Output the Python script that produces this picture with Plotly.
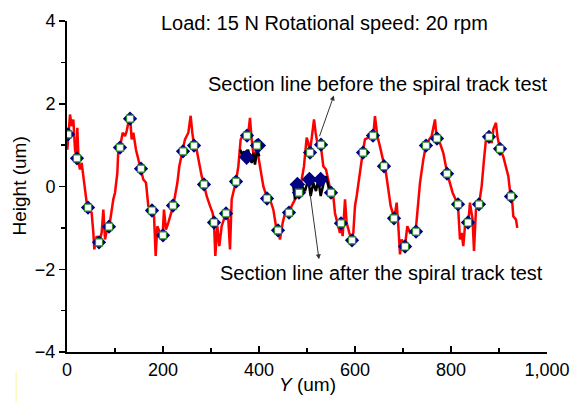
import plotly.graph_objects as go

# ---- data ----
red_x = [0.7, 3, 6.3, 9.7, 13.2, 16.7, 20.1, 21.5, 24.3, 27.1, 30.6, 34, 37.5, 41, 44.4, 51.4, 54.9, 56.9,
         61.8, 67.4, 72.2, 75.7, 79.2, 82.6, 88.2, 93, 96.5, 100, 104.9, 106.9, 110.4, 116, 120.8, 124.3,
         131.2, 134.7, 138.2, 143.7, 148.6, 153.5, 159, 164.6, 169.4, 176.4, 181.2, 184.7, 188.2, 193.7,
         199.3, 202, 206.2, 211, 221.5, 225, 229.9, 234, 241, 245.8, 252.8, 257.6, 261.1, 264.6, 270.1,
         275.7, 280.6, 285.4, 290.9, 297.9, 303.5, 306.2, 309, 313.2, 317.4, 322.2, 330.6, 336.1, 339.6,
         343.1, 352.1, 357, 361.8, 366, 374.3, 377.8, 381.2, 384.7, 389.6, 395.1, 402, 409, 417.4, 422.9,
         429.9, 435.4, 440.3, 443.7, 449.3, 454.2, 463.2, 468, 475, 484, 489, 493.7, 499.3, 502.8, 506.2,
         509.7, 514.6, 518, 521.5, 528.5, 534, 539.6, 544.4, 550, 554.8, 558.3, 563.2, 568.7, 570.8,
         574.3, 579.2, 582.6, 588.2, 593, 596.5, 600, 603.5, 609, 616, 620.8, 627.8, 632.6, 638.2, 641.6,
         646.5, 652, 660.4, 664.5, 669.4, 674.3, 681.9, 686.8, 690.3, 693.7, 697.2, 704.1, 709, 714.6,
         726.4, 731.9, 735.4, 742.3, 747.9, 754.8, 759.7, 766.6, 770.1, 777, 784, 792.3, 797.9, 803.4,
         814.5, 818.7, 822.2, 825.6, 829.1, 836.1, 839.5, 845, 847.9, 852, 858.3, 863.9, 868.7, 872.9,
         879.8, 884.7, 888.2, 893.7, 896.5, 902, 909, 914.5, 919.4, 924.3, 927.7, 929.8, 935.4, 938.1]
red_y = [0.89, 1.3, 1.74, 1.46, 1.62, 0.89, 0.67, 1.42, 0.57, 0.41, 0.57, 0.25, -0.15, -0.39, -0.51, -0.64,
         -1.12, -1.52, -1.2, -1.34, -1.12, -0.56, -1.28, -1.08, -0.96, -0.56, -0.31, -0.15, 0.33, 0.89,
         0.95, 1.3, 1.22, 1.34, 1.74, 1.14, 1.3, 0.89, 0.65, 0.43, 0.17, 0.09, -0.47, -0.58, -0.68, -1.68,
         -0.96, -1.12, -1.18, -0.56, -1.04, -0.88, -0.46, -0.23, 0.09, 0.49, 0.85, 1.14, 1.3, 1.71, 1.3,
         0.99, 0.89, 0.49, 0.25, 0.05, -0.23, -0.47, -0.64, -0.86, -1.68, -0.96, -1.44, -0.96, -0.66, -0.8,
         -1.52, -0.31, 0.13, 0.49, 1.14, 1.22, 1.23, 1.3, 1.66, 1.14, 0.65, 0.97, 0.49, 0.01, -0.3, -0.31,
         -0.56, -0.96, -1.06, -1.28, -0.88, -0.64, -0.62, -0.47, -0.31, -0.17, 0.17, 0.49, 1.18, 1.05,
         0.83, 1.22, 1.62, 1.3, 1.05, 1.01, 0.49, 0.41, 0.17, -0.15, -0.23, -0.64, -0.88, -1.12, -0.89,
         -1.2, -0.31, -0.88, -1.12, -1.3, -1.12, -0.47, -0.23, 0.25, 0.81, 1.14, 1.18, 1.3, 1.24, 1.7,
         1.22, 0.97, 0.49, 0.33, -0.07, -0.47, -0.77, -0.39, -0.96, -1.64, -1.28, -1.44, -0.96, -1.12,
         -1.08, -0.47, 0.09, 0.65, 1.0, 1.14, 1.22, 1.62, 1.16, 1.05, 0.81, 0.31, 0.09, -0.15, -0.44,
         -1.28, -1.12, -1.44, -0.96, -0.88, -0.39, -0.8, -1.56, -0.56, -0.44, 0.01, 0.65, 1.14, 1.2, 1.05,
         1.38, 1.54, 1.22, 0.91, 0.72, 0.49, 0.25, -0.25, -0.39, -0.72, -0.8, -1.0]

marker_x = [2.1, 20.8, 43.8, 66.7, 87.5, 110.4, 131.3, 154.2, 177.1, 200, 220.8, 241.7, 264.6, 285.4,
            306.3, 331.3, 352.1, 375, 395.8, 416.7, 439.6, 462.5, 483.3, 506.3, 529.2, 550, 570.8, 593.8,
            616.7, 637.5, 660.4, 681.3, 704.2, 727.1, 747.9, 770.8, 791.7, 814.6, 835.4, 858.3, 879.2,
            902.1, 925]
marker_y = [1.26, 0.68, -0.51, -1.35, -0.97, 0.94, 1.64, 0.43, -0.58, -1.18, -0.46, 0.85, 0.99, 0.05,
            -0.87, -0.65, 0.12, 1.23, 0.99, -0.29, -1.06, -0.63, -0.15, 0.82, 1.01, -0.15, -0.89, -1.3,
            0.82, 1.23, 0.49, -0.77, -1.45, -1.09, 0.99, 1.16, 0.31, -0.43, -0.87, -0.43, 1.2, 0.91, -0.24]

after1_x = [361, 364.6, 368.8, 373, 377, 384.7, 388.2, 391.6, 396.5, 400.6]
after1_y = [0.89, 0.77, 0.85, 0.69, 0.89, 0.57, 0.81, 0.53, 0.89, 0.73]
after2_x = [471.5, 475, 478.5, 482, 485.4, 489, 495.8, 502.8, 507.6, 513.2, 518.7, 523.6, 528.5, 534,
            539.6, 544.4, 549.3]
after2_y = [0.01, -0.31, 0.09, -0.15, 0.09, 0.01, -0.11, 0.17, -0.23, 0.09, -0.11, 0.17, -0.23, 0.05,
            0.25, 0.01, -0.23]
after_mk_x = [374.3, 398.6, 480, 505, 528.5]
after_mk_y = [0.71, 0.99, 0.05, 0.17, 0.17]

x_tick_vals = [0, 200, 400, 600, 800, 1000]
x_tick_text = ["0", "200", "400", "600", "800", "1,000"]
y_tick_vals = [-4, -2, 0, 2, 4]
y_tick_text = ["\u22124", "\u22122", "0", "2", "4"]

FONT = "Arial, Liberation Sans, sans-serif"

fig = go.Figure()
fig.add_trace(go.Scatter(x=red_x, y=red_y, mode="lines",
                         line=dict(color="#ff0000", width=2.5), showlegend=False, hoverinfo="skip"))
fig.add_trace(go.Scatter(x=after1_x, y=after1_y, mode="lines",
                         line=dict(color="#000000", width=2.5), showlegend=False))
fig.add_trace(go.Scatter(x=after2_x, y=after2_y, mode="lines",
                         line=dict(color="#000000", width=2.5), showlegend=False))
fig.add_trace(go.Scatter(x=after_mk_x, y=after_mk_y, mode="markers",
                         marker=dict(symbol="diamond", size=12, color="#000080", line=dict(width=0)),
                         showlegend=False))
fig.add_trace(go.Scatter(x=marker_x, y=marker_y, mode="markers",
                         marker=dict(symbol="diamond", size=11, color="#000080", line=dict(width=0)),
                         showlegend=False))
fig.add_trace(go.Scatter(x=marker_x, y=marker_y, mode="markers",
                         marker=dict(symbol="square", size=7, color="#ffffff",
                                     line=dict(width=1.2, color="#2e8b2e")),
                         showlegend=False))

axis_common = dict(showgrid=False, zeroline=False, showline=True, linecolor="black", linewidth=2,
                   tickcolor="black", tickwidth=1.5, tickfont=dict(family=FONT, size=18, color="black"),
                   mirror=False, automargin=False)

fig.update_xaxes(range=[0, 1000], tickvals=x_tick_vals, ticktext=x_tick_text, ticks="inside", ticklen=6,
                 minor=dict(dtick=100, ticks="inside", ticklen=4, tickcolor="black", tickwidth=1.5),
                 **axis_common)
fig.update_yaxes(range=[-4, 4], tickvals=y_tick_vals, ticktext=y_tick_text, ticks="outside", ticklen=6,
                 minor=dict(dtick=1, ticks="outside", ticklen=4, tickcolor="black", tickwidth=1.5),
                 **axis_common)

annotations = [
    dict(x=537, y=3.96, xref="x", yref="y", text="Load: 15 N Rotational speed: 20 rpm", showarrow=False,
         font=dict(family=FONT, size=20, color="black"), xanchor="center", yanchor="middle"),
    dict(x=648, y=2.47, xref="x", yref="y", text="Section line before the spiral track test",
         showarrow=False, font=dict(family=FONT, size=20, color="black"), xanchor="center", yanchor="middle"),
    dict(x=656, y=-2.08, xref="x", yref="y", text="Section line after the spiral track test",
         showarrow=False, font=dict(family=FONT, size=20, color="black"), xanchor="center", yanchor="middle"),
    dict(x=556, y=2.2, ax=525, ay=1.18, xref="x", yref="y", axref="x", ayref="y", text="",
         showarrow=True, arrowhead=2, arrowsize=1, arrowwidth=1, arrowcolor="#333333"),
    dict(x=525, y=-1.76, ax=506, ay=-0.14, xref="x", yref="y", axref="x", ayref="y", text="",
         showarrow=True, arrowhead=2, arrowsize=1, arrowwidth=1, arrowcolor="#333333"),
    dict(x=-0.1, y=0.5, xref="paper", yref="paper", text="Height (um)", textangle=-90, showarrow=False,
         font=dict(family=FONT, size=19, color="black"), xanchor="center", yanchor="middle"),
    dict(x=0.5, y=-0.098, xref="paper", yref="paper", text="<i>Y</i> (um)", showarrow=False,
         font=dict(family=FONT, size=19, color="black"), xanchor="center", yanchor="middle"),
]

fig.update_layout(
    width=572, height=402,
    margin=dict(l=67, r=25, t=21, b=50, autoexpand=False),
    paper_bgcolor="white", plot_bgcolor="white",
    showlegend=False,
    hovermode=False,
    annotations=annotations,
    shapes=[dict(type="line", xref="paper", yref="paper", x0=-0.106, x1=-0.106, y0=-0.06, y1=-0.151,
                 line=dict(color="#fff59a", width=1))],
)

fig.write_html("out.html",
               config={"displayModeBar": False, "staticPlot": True},
               post_script="document.body.style.margin='0px';document.body.style.overflow='hidden';")
